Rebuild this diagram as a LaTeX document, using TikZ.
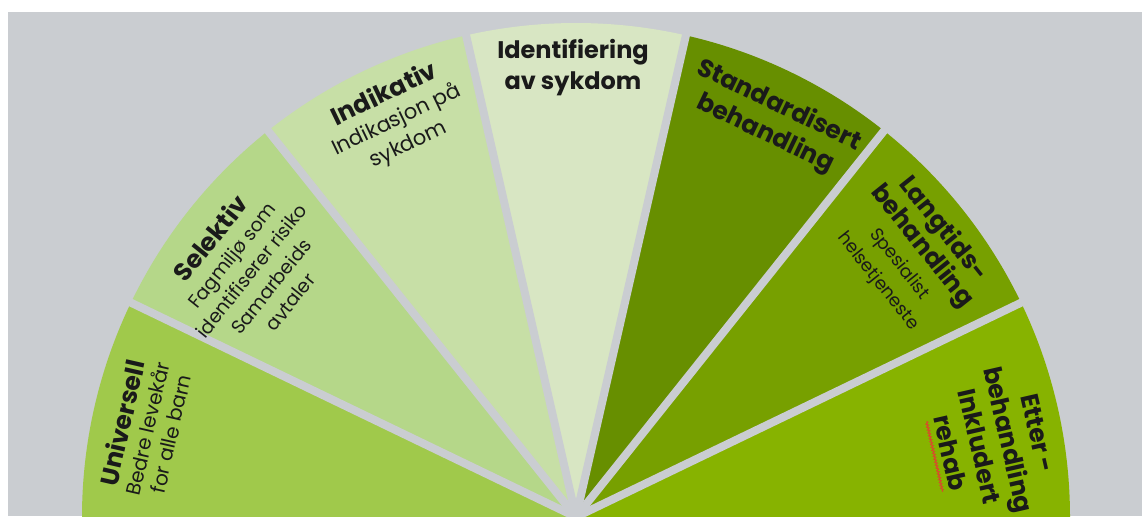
\documentclass[tikz,border=0pt]{standalone}
\usepackage{fontspec}
\setmainfont{Poppins}
\usetikzlibrary{decorations.pathmorphing}
\definecolor{bg}{HTML}{CACDD1}
\definecolor{cA}{HTML}{A0C94B}
\definecolor{cB}{HTML}{B5D789}
\definecolor{cC}{HTML}{C7DFA6}
\definecolor{cD}{HTML}{D8E6C3}
\definecolor{cE}{HTML}{678F00}
\definecolor{cF}{HTML}{77A000}
\definecolor{cG}{HTML}{87B300}
\definecolor{txt}{HTML}{1A1A1A}
\definecolor{squig}{HTML}{D9492B}
\tikzset{
  lbl/.style={align=center, inner sep=0pt, text=txt},
  gap/.style={bg, line width=8pt},
}
\newcommand{\ttl}[1]{{\bfseries\fontsize{25}{25}\selectfont #1}}
\begin{document}
\begin{tikzpicture}[x=1pt,y=1pt]
\useasboundingbox (0,0) rectangle (1144,523);
\fill[white] (0,0) rectangle (1144,523);
\fill[bg] (8,7) rectangle (1142,511);
\coordinate (C) at (576,6);
\begin{scope}
\clip (8,7) rectangle (1142,511);
\fill[cA] (C) -- +(180:494) arc[start angle=180, end angle=154.286, radius=494] -- cycle;
\fill[cB] (C) -- +(154.286:494) arc[start angle=154.286, end angle=128.571, radius=494] -- cycle;
\fill[cC] (C) -- +(128.571:494) arc[start angle=128.571, end angle=102.857, radius=494] -- cycle;
\fill[cD] (C) -- +(102.857:494) arc[start angle=102.857, end angle=77.143, radius=494] -- cycle;
\fill[cE] (C) -- +(77.143:494) arc[start angle=77.143, end angle=51.429, radius=494] -- cycle;
\fill[cF] (C) -- +(51.429:494) arc[start angle=51.429, end angle=25.714, radius=494] -- cycle;
\fill[cG] (C) -- +(25.714:494) arc[start angle=25.714, end angle=0, radius=494] -- cycle;
\foreach \a in {25.714,51.429,77.143,102.857,128.571,154.286}
  \draw[gap] (C) -- +(\a:500);
\end{scope}

\node[lbl, rotate=77.1, font=\fontsize{20}{24}\selectfont] (univ) at (145,95)
  {\ttl{Universell}\\Bedre levekår\\for alle barn};
\node[lbl, rotate=51.4, font=\fontsize{19}{25}\selectfont] (sel) at (249,254)
  {\ttl{Selektiv}\\Fagmiljø som\\identifiserer risiko\\Samarbeids\\avtaler};
\node[lbl, rotate=25.7, font=\fontsize{21}{27}\selectfont] (ind) at (396,404)
  {\ttl{Indikativ}\\Indikasjon på\\sykdom};
\node[lbl, font=\bfseries\fontsize{24}{31}\selectfont] (ident) at (573,455)
  {Identifiering\\av sykdom};
\node[lbl, rotate=-25.7, font=\bfseries\fontsize{25}{31}\selectfont] (std) at (772,403)
  {Standardisert\\behandling};
\node[lbl, rotate=-51.4, font=\fontsize{18}{27}\selectfont] (lang) at (912,269)
  {\ttl{Langtids-}\\\ttl{behandling}\\Spesialist\\helsetjeneste};
\begin{scope}[shift={(994,80)}, rotate=-77.1]
\node[lbl, transform shape, font=\bfseries\fontsize{25}{30}\selectfont] (etter) at (0,0)
  {Etter -\\behandling\\Inkludert\\rehab};
\draw[squig, line width=1.1pt, decorate, decoration={snake, amplitude=1.1pt, segment length=3pt}]
  (-36,-61) -- (36,-61);
\end{scope}
\end{tikzpicture}
\end{document}
